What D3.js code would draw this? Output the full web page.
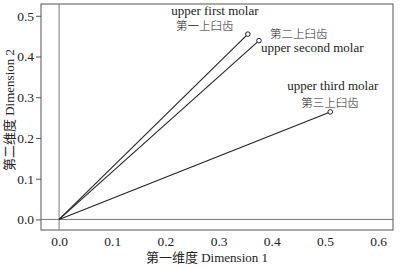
<!DOCTYPE html>
<html>
<head>
<meta charset="utf-8">
<script src="https://cdn.jsdelivr.net/npm/d3@7"></script>
<style>
body { margin: 0; background: #fff; }
text { font-family: "Liberation Serif", "Noto Sans CJK SC", serif; fill: #222; }
</style>
</head>
<body>
<div id="chart"></div>
<script>
// data
var teeth = ["upper first molar", "upper second molar", "upper third molar"];
var teethCn = ["第一上臼齿", "第二上臼齿", "第三上臼齿"];
var dim1 = [0.355, 0.376, 0.51];
var dim2 = [0.455, 0.439, 0.264];
var xTicks = [0, 0.1, 0.2, 0.3, 0.4, 0.5, 0.6];
var yTicks = [0, 0.1, 0.2, 0.3, 0.4, 0.5];

var svgWidth = 406, svgHeight = 268;
var margin = {top: 4, right: 13, bottom: 38, left: 41};
var width = svgWidth - margin.left - margin.right;
var height = svgHeight - margin.top - margin.bottom;

var svg = d3.select("#chart").append("svg")
    .attr("width", svgWidth)
    .attr("height", svgHeight);
var g = svg.append("g")
    .attr("transform", "translate(" + margin.left + "," + margin.top + ")");

var x = d3.scaleLinear().domain([-0.034, 0.628]).range([0, width]);
var y = d3.scaleLinear().domain([-0.026, 0.529]).range([height, 0]);

// frame
g.append("rect")
    .attr("width", width).attr("height", height)
    .attr("fill", "none").attr("stroke", "#555").attr("stroke-width", 1);

// zero lines
g.append("line")
    .attr("x1", 0).attr("x2", width)
    .attr("y1", y(0)).attr("y2", y(0))
    .attr("stroke", "#777");
g.append("line")
    .attr("x1", x(0)).attr("x2", x(0))
    .attr("y1", 0).attr("y2", height)
    .attr("stroke", "#777");

// axes
var xAxis = g.append("g")
    .attr("transform", "translate(0," + height + ")")
    .call(d3.axisBottom(x).tickValues(xTicks).tickFormat(d3.format(".1f")).tickSize(0).tickPadding(6));
var yAxis = g.append("g")
    .call(d3.axisLeft(y).tickValues(yTicks).tickFormat(d3.format(".1f")).tickSize(5).tickPadding(2));
[xAxis, yAxis].forEach(function(a) {
  a.select(".domain").remove();
  a.selectAll("line").attr("stroke", "#555");
  a.selectAll("text").style("font-size", "13.5px").attr("fill", "#222")
    .style("font-family", "Liberation Serif");
});

// vectors from origin
g.selectAll(".vec").data(dim1).enter().append("line")
    .attr("class", "vec")
    .attr("x1", x(0)).attr("y1", y(0))
    .attr("x2", function(d) { return x(d); })
    .attr("y2", function(d, i) { return y(dim2[i]); })
    .attr("stroke", "#222").attr("stroke-width", 1.1);

g.selectAll(".pt").data(dim1).enter().append("circle")
    .attr("class", "pt")
    .attr("cx", function(d) { return x(d); })
    .attr("cy", function(d, i) { return y(dim2[i]); })
    .attr("r", 2.3)
    .attr("fill", "#fff").attr("stroke", "#222").attr("stroke-width", 1);

// labels: english / chinese offsets relative to the point
var labelPos = [
  {en: [-33, -19], cn: [-43, -4], anchor: "middle"},
  {en: [2, 11], cn: [11, -3], anchor: "start"},
  {en: [-43, -22], cn: [-29, -5], anchor: "start"}
];
teeth.forEach(function(t, i) {
  var px = x(dim1[i]), py = y(dim2[i]);
  var p = labelPos[i];
  g.append("text")
      .attr("x", px + p.en[0]).attr("y", py + p.en[1])
      .attr("text-anchor", p.anchor)
      .style("font-size", "13px")
      .text(t);
  g.append("text")
      .attr("x", px + p.cn[0]).attr("y", py + p.cn[1])
      .attr("text-anchor", p.anchor)
      .style("font-size", "11.5px")
      .style("font-family", "Noto Sans CJK SC")
      .style("font-weight", "300")
      .text(teethCn[i]);
});

// axis titles
svg.append("text")
    .attr("x", 207).attr("y", 262)
    .attr("text-anchor", "middle")
    .style("font-size", "13px")
    .text("第一维度 Dimension 1");
svg.append("text")
    .attr("transform", "translate(14,110) rotate(-90)")
    .attr("text-anchor", "middle")
    .style("font-size", "13px")
    .text("第二维度 Dimension 2");
</script>
</body>
</html>
